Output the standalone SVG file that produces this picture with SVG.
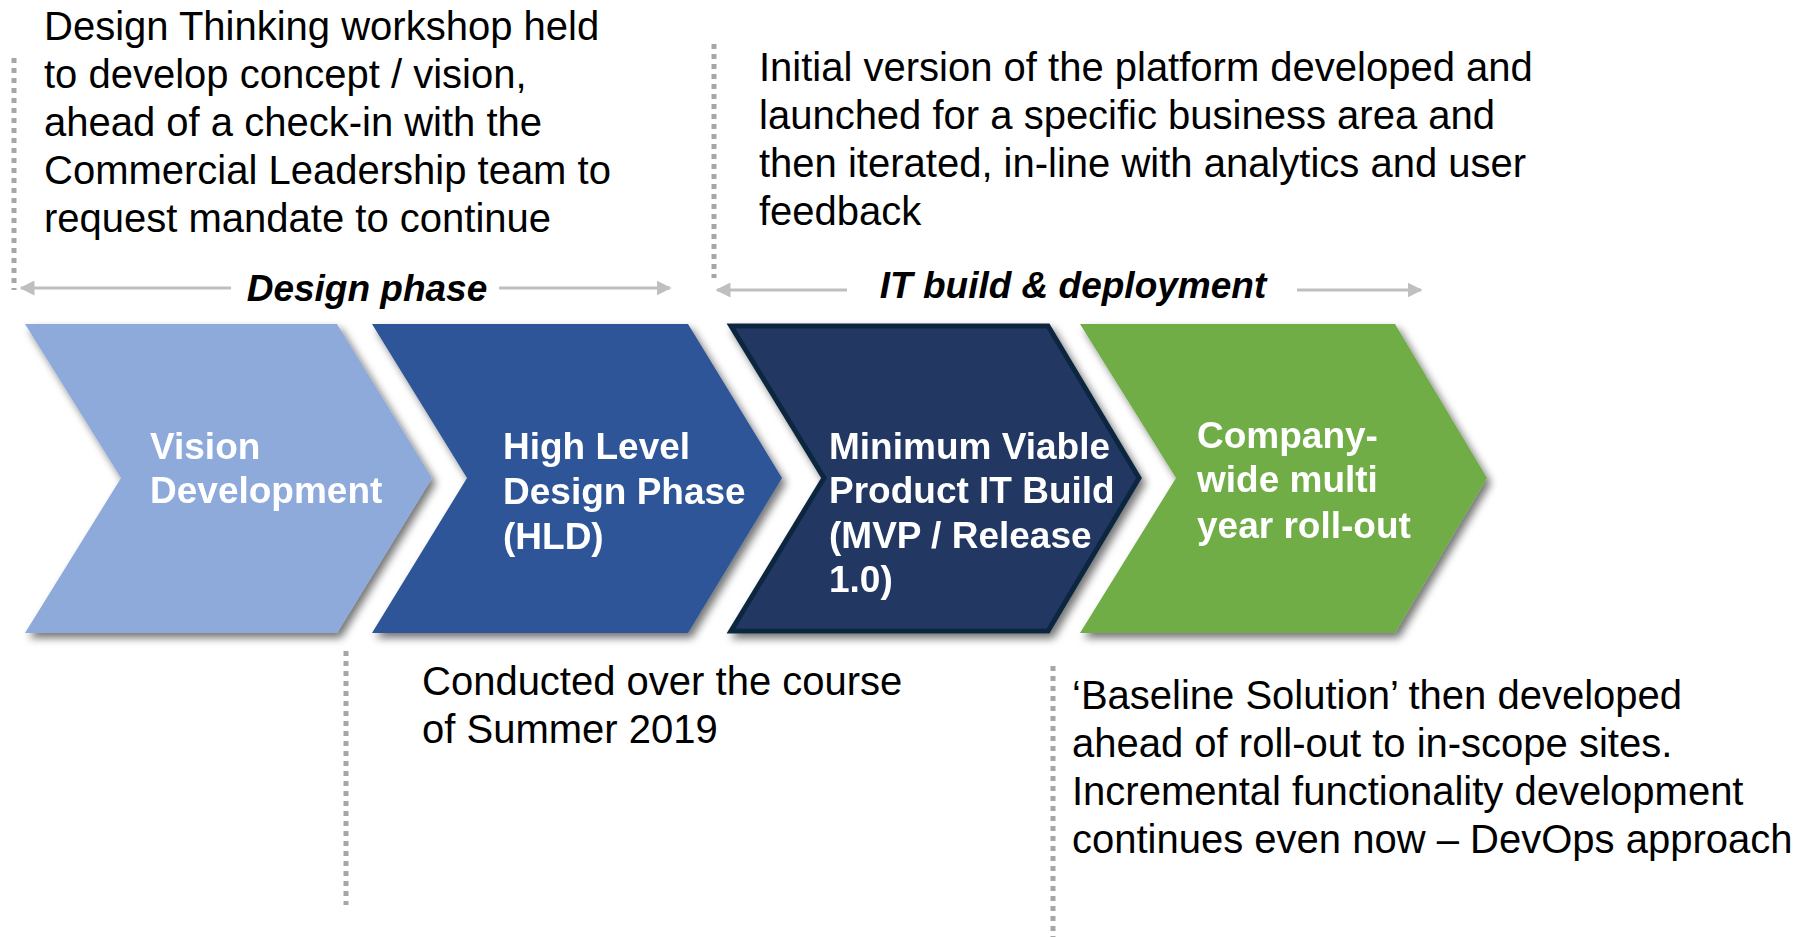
<svg xmlns="http://www.w3.org/2000/svg" width="1808" height="937" viewBox="0 0 1808 937">
  <style>
    .note { font-family: "Liberation Sans", Arial, sans-serif; font-size: 40px; fill: #000; }
    .phase { font-family: "Liberation Sans", Arial, sans-serif; font-size: 37px; font-weight: bold; font-style: italic; fill: #000; }
    .label { font-family: "Liberation Sans", Arial, sans-serif; font-size: 37px; font-weight: bold; fill: #fff; }
    .dots { stroke: #A6A6A6; stroke-width: 5; stroke-dasharray: 5 5; fill: none; }
    .span { stroke: #BFBFBF; stroke-width: 3; fill: none; }
  </style>
  <defs>
    <marker id="head" viewBox="0 0 10 10" refX="9" refY="5" markerWidth="5" markerHeight="5" orient="auto-start-reverse">
      <path d="M0,0 L10,5 L0,10 z" fill="#BFBFBF"/>
    </marker>
    <filter id="shadow" x="-10%" y="-10%" width="125%" height="125%">
      <feGaussianBlur in="SourceAlpha" stdDeviation="4"/>
      <feOffset dx="4" dy="5" result="b"/>
      <feComponentTransfer><feFuncA type="linear" slope="0.55"/></feComponentTransfer>
      <feMerge><feMergeNode/><feMergeNode in="SourceGraphic"/></feMerge>
    </filter>
  </defs>
  <rect width="1808" height="937" fill="#fff"/>

  <!-- dotted separators and phase spans -->
  <g id="connectors">
    <line class="dots" x1="14" y1="58" x2="14" y2="290"/>
    <line class="dots" x1="714" y1="44" x2="714" y2="278"/>
    <line class="dots" x1="346" y1="651" x2="346" y2="905"/>
    <line class="dots" x1="1053" y1="666" x2="1053" y2="937"/>
    <line class="span" x1="231" y1="288" x2="21" y2="288" marker-end="url(#head)"/>
    <line class="span" x1="499" y1="288" x2="670" y2="288" marker-end="url(#head)"/>
    <line class="span" x1="847" y1="290" x2="717" y2="290" marker-end="url(#head)"/>
    <line class="span" x1="1297" y1="290" x2="1421" y2="290" marker-end="url(#head)"/>
  </g>

  <g id="phase-labels">
    <text class="phase" x="367" y="301" text-anchor="middle">Design phase</text>
    <text class="phase" x="1073" y="298" text-anchor="middle">IT build &amp; deployment</text>
  </g>

  <g id="vision" filter="url(#shadow)">
    <path d="M25,324 L337,324 L432,478 L337,633 L25,633 L121,478 Z" fill="#8EAADB"/>
    <text class="label" x="150" y="459">Vision</text>
    <text class="label" x="150" y="503">Development</text>
  </g>

  <g id="hld" filter="url(#shadow)">
    <path d="M372,324 L688,324 L782,478 L688,633 L372,633 L467,478 Z" fill="#2F5597"/>
    <text class="label" x="503" y="459">High Level</text>
    <text class="label" x="503" y="504">Design Phase</text>
    <text class="label" x="503" y="549">(HLD)</text>
  </g>

  <g id="mvp" filter="url(#shadow)">
    <path d="M731,326 L1048,326 L1139,478 L1048,631 L731,631 L824,478 Z" fill="#203864" stroke="#0E2841" stroke-width="5"/>
    <text class="label" x="829" y="459">Minimum Viable</text>
    <text class="label" x="829" y="503">Product IT Build</text>
    <text class="label" x="829" y="548">(MVP / Release</text>
    <text class="label" x="829" y="592">1.0)</text>
  </g>

  <g id="rollout" filter="url(#shadow)">
    <path d="M1080,324 L1395,324 L1487,478 L1395,633 L1080,633 L1176,478 Z" fill="#70AD47"/>
    <text class="label" x="1197" y="448">Company-</text>
    <text class="label" x="1197" y="492">wide multi</text>
    <text class="label" x="1197" y="538">year roll-out</text>
  </g>

  <g id="note-design">
    <text class="note" x="44" y="40">Design Thinking workshop held</text>
    <text class="note" x="44" y="88">to develop concept / vision,</text>
    <text class="note" x="44" y="136">ahead of a check-in with the</text>
    <text class="note" x="44" y="184">Commercial Leadership team to</text>
    <text class="note" x="44" y="232">request mandate to continue</text>
  </g>

  <g id="note-build">
    <text class="note" x="759" y="81">Initial version of the platform developed and</text>
    <text class="note" x="759" y="129">launched for a specific business area and</text>
    <text class="note" x="759" y="177">then iterated, in-line with analytics and user</text>
    <text class="note" x="759" y="225">feedback</text>
  </g>

  <g id="note-summer">
    <text class="note" x="422" y="695">Conducted over the course</text>
    <text class="note" x="422" y="743">of Summer 2019</text>
  </g>

  <g id="note-baseline">
    <text class="note" x="1072" y="709">‘Baseline Solution’ then developed</text>
    <text class="note" x="1072" y="757">ahead of roll-out to in-scope sites.</text>
    <text class="note" x="1072" y="805">Incremental functionality development</text>
    <text class="note" x="1072" y="853">continues even now – DevOps approach</text>
  </g>
</svg>
